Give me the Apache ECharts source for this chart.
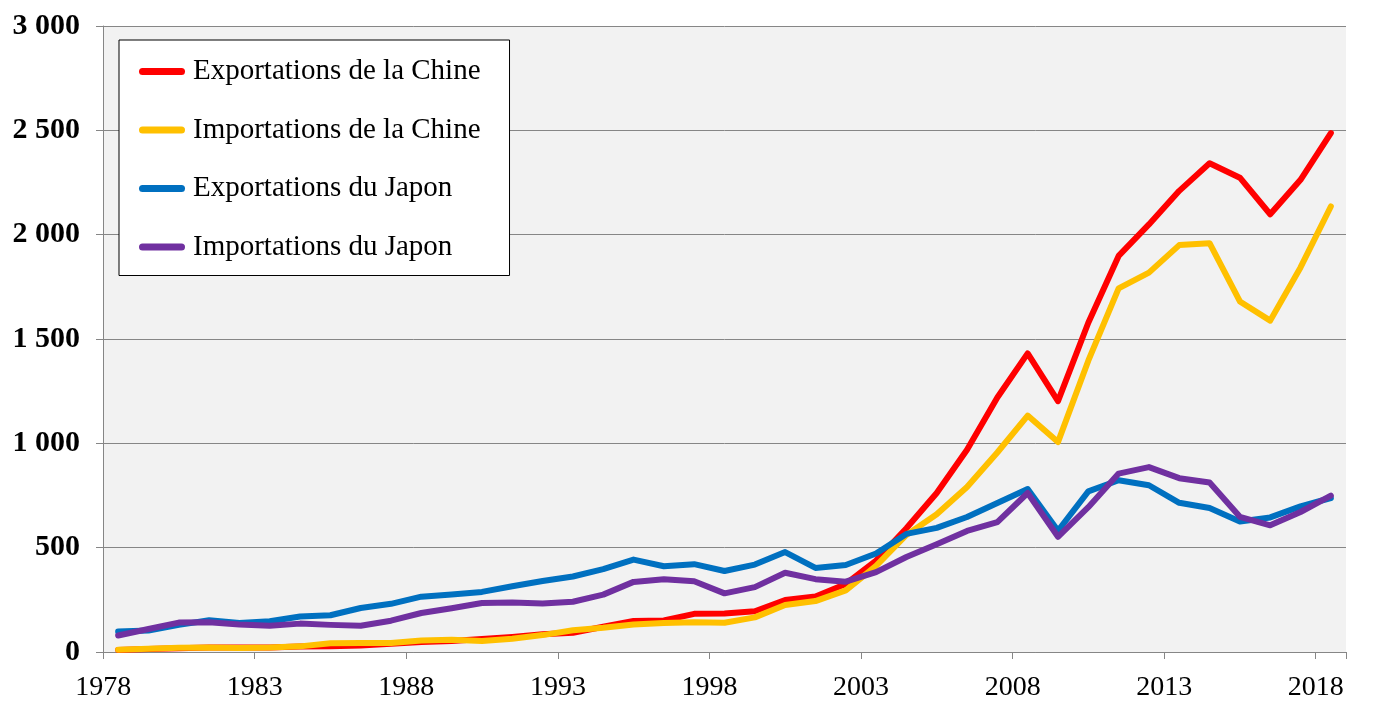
<!DOCTYPE html>
<html>
<head>
<meta charset="utf-8">
<script src="https://cdn.jsdelivr.net/npm/echarts@6/dist/echarts.min.js"></script>
<style>html,body{margin:0;padding:0;background:#fff}#c{width:1374px;height:715px}</style>
</head>
<body>
<div id="c"></div>
<script>
var years = ['1978','1979','1980','1981','1982','1983','1984','1985','1986','1987','1988','1989','1990','1991','1992','1993','1994','1995','1996','1997','1998','1999','2000','2001','2002','2003','2004','2005','2006','2007','2008','2009','2010','2011','2012','2013','2014','2015','2016','2017','2018'];
var chinaExports = [10,14,18,22,22,22,26,27,31,39,48,53,62,72,85,92,121,149,151,183,184,195,249,266,326,438,593,762,969,1220,1431,1202,1578,1898,2049,2210,2342,2273,2098,2263,2487];
var chinaImports = [11,16,20,22,19,21,27,42,43,43,55,59,53,64,81,104,116,132,139,142,140,166,225,244,295,413,561,660,791,956,1133,1006,1396,1743,1818,1950,1959,1680,1588,1843,2135];
var japanExports = [98,103,130,152,139,147,170,176,211,231,265,275,288,315,340,362,397,443,411,421,388,419,479,403,417,472,566,595,647,714,781,581,770,823,799,715,690,625,645,698,738];
var japanImports = [79,110,141,143,132,126,136,130,126,150,187,210,235,237,233,241,275,336,349,339,281,311,380,349,337,383,455,516,580,622,762,552,694,855,886,833,812,648,607,671,749];
var yTicks = ['0','500','1 000','1 500','2 000','2 500','3 000'];
var names = ['Exportations de la Chine','Importations de la Chine','Exportations du Japon','Importations du Japon'];
var colors = ['#FF0000','#FFC000','#0070C0','#7030A0'];
var serif = "'Liberation Serif','Times New Roman',serif";

var chart = echarts.init(document.getElementById('c'), null, {renderer:'canvas'});
function mk(i, data){
  return {name:names[i], type:'line', data:data, symbol:'none', smooth:false,
    lineStyle:{color:colors[i], width:6, cap:'round', join:'round'},
    itemStyle:{color:colors[i]}, z:2+i, animation:false};
}
chart.setOption({
  animation:false,
  color:colors,
  grid:{left:103, right:28, top:26, bottom:63, show:true, backgroundColor:'#F2F2F2', borderWidth:0, containLabel:false},
  legend:{
    orient:'vertical', left:119, top:40,
    backgroundColor:'#FFFFFF', borderColor:'#000000', borderWidth:1,
    padding:[17,29,14,20], itemGap:29.5, itemWidth:46, itemHeight:7,
    icon:'path://M3.5,0 H42.5 A3.5,3.5 0 0 1 42.5,7 H3.5 A3.5,3.5 0 0 1 3.5,0 Z',
    textStyle:{fontFamily:serif, fontSize:29, color:'#000', lineHeight:29, padding:[0,0,0,3]},
    data:names
  },
  xAxis:{
    type:'category', data:years, boundaryGap:true,
    axisLine:{show:true, lineStyle:{color:'#868686', width:1}},
    axisTick:{show:true, interval:4, length:7, lineStyle:{color:'#868686'}},
    axisLabel:{interval:4, hideOverlap:false, margin:22, color:'#000', fontFamily:serif, fontSize:28,
      formatter:function(v){return '{a|'+v+'}';},
      rich:{a:{fontFamily:serif, fontSize:28, color:'#000', padding:[0,30,0,0]}}},
    splitLine:{show:false}
  },
  yAxis:{
    type:'value', min:0, max:3000, interval:500,
    axisLine:{show:true, lineStyle:{color:'#868686', width:1}},
    axisTick:{show:true, length:7, lineStyle:{color:'#868686'}},
    axisLabel:{margin:23, color:'#000', fontFamily:serif, fontSize:30, fontWeight:'bold',
      formatter:function(v){return yTicks[Math.round(v/500)];}},
    splitLine:{show:true, lineStyle:{color:'#868686', width:1}}
  },
  series:[mk(0,chinaExports), mk(1,chinaImports), mk(2,japanExports), mk(3,japanImports)]
});
</script>
</body>
</html>
